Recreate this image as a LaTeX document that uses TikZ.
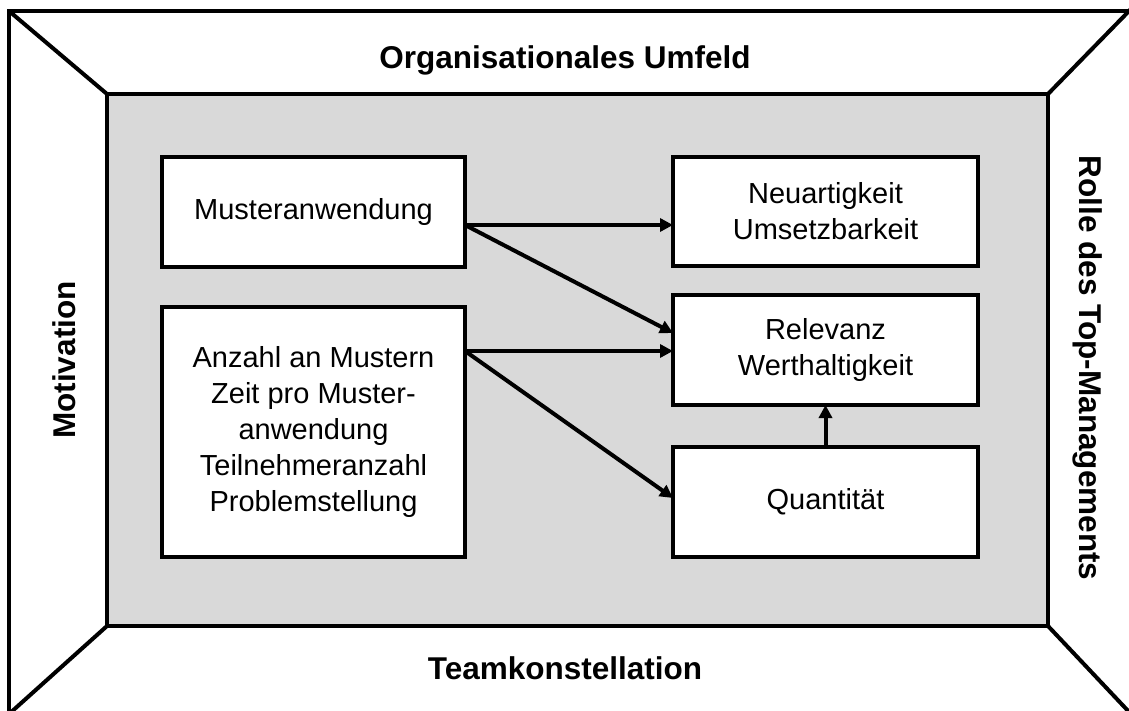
\documentclass[tikz,border=0pt]{standalone}
\usepackage{fontspec}
\setmainfont{Liberation Sans}
\usetikzlibrary{arrows.meta}
\definecolor{panelgray}{HTML}{D9D9D9}
\begin{document}
\begin{tikzpicture}[x=1pt,y=-1pt,
  frameline/.style={line width=4pt,line join=miter},
  box/.style={draw,line width=4pt,fill=white,align=center,inner sep=0pt,outer sep=0pt,
    font=\fontsize{29}{36}\selectfont},
  flow/.style={line width=4pt,-{Triangle[length=13pt,width=13pt]}},
  sidelabel/.style={font=\fontsize{31.5}{38}\selectfont\bfseries}]
\useasboundingbox (0,0) rectangle (1129,711);
\begin{scope}
\clip (0,0) rectangle (1129,711);
% outer frame and perspective edges
\draw[frameline] (9,11) rectangle (1131,714);
\draw[frameline] (9,11) -- (107,94);
\draw[frameline] (1131,9) -- (1048,94);
\draw[frameline] (9,714) -- (107,626);
\draw[frameline] (1131,714) -- (1048,626);
% inner panel
\draw[frameline,fill=panelgray] (107,94) rectangle (1048,626);
\end{scope}
% surrounding factors
\node[sidelabel] (org) at (565,60) {Organisationales Umfeld};
\node[sidelabel] (team) at (565,668) {Teamkonstellation};
\node[sidelabel,rotate=90] (mot) at (64,360) {Motivation};
\node[sidelabel,rotate=-90] (top) at (1088,368) {Rolle des Top-Managements};
% model boxes
\node[box,minimum width=303pt,minimum height=110pt] (mus) at (313.5,212) {Musteranwendung};
\node[box,minimum width=305pt,minimum height=109pt] (neu) at (825.5,211.5) {Neuartigkeit\\Umsetzbarkeit};
\node[box,minimum width=305pt,minimum height=110pt] (rel) at (825.5,350) {Relevanz\\Werthaltigkeit};
\node[box,minimum width=303pt,minimum height=250pt] (anz) at (313.5,432) {Anzahl an Mustern\\Zeit pro Muster-\\anwendung\\Teilnehmeranzahl\\Problemstellung};
\node[box,minimum width=305pt,minimum height=110pt] (qua) at (825.5,502) {Quantität};
% relations
\coordinate (musout) at ([yshift=-13pt]mus.east);
\coordinate (anzout) at ([yshift=81pt]anz.east);
\draw[flow] (musout) -- ([yshift=-13.5pt]neu.west);
\draw[flow] (musout) -- ([yshift=17pt]rel.west);
\draw[flow] (anzout) -- ([yshift=-1pt]rel.west);
\draw[flow] (anzout) -- ([yshift=4pt]qua.west);
\draw[flow] (qua.north) -- (rel.south);
\end{tikzpicture}
\end{document}
